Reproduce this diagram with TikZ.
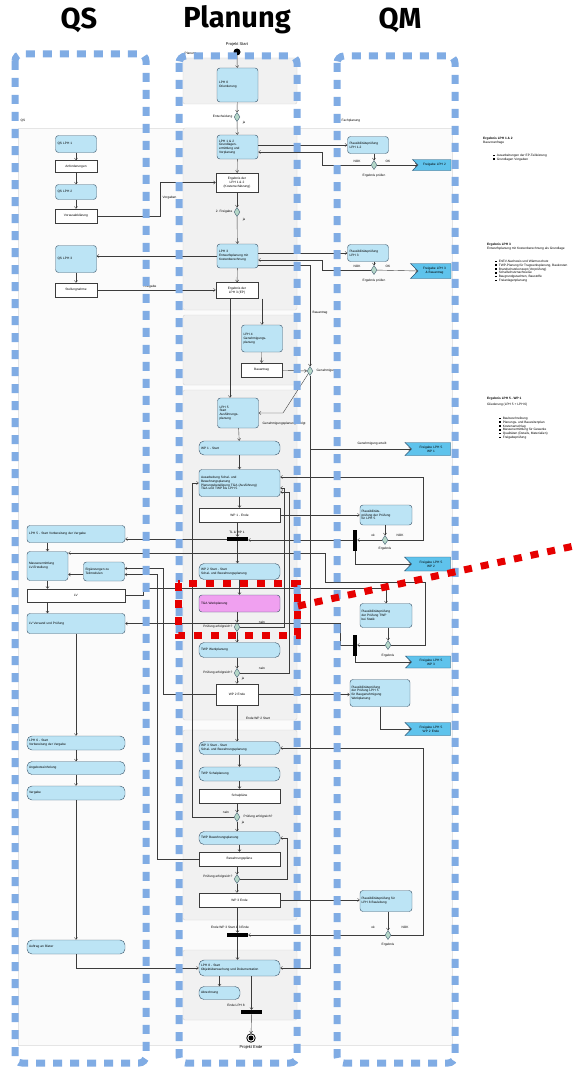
\documentclass[tikz,border=0pt]{standalone}
\usepackage{fontspec}
\setmainfont{Liberation Sans}
\newfontfamily\headfont{Fira Sans}
\usetikzlibrary{shapes.geometric,shapes.symbols,arrows.meta}
\definecolor{lanecol}{RGB}{128,172,228}
\definecolor{actfill}{RGB}{188,228,245}
\definecolor{actdraw}{RGB}{70,95,115}
\definecolor{flagfill}{RGB}{95,195,236}
\definecolor{flagdraw}{RGB}{40,80,110}
\definecolor{pinkfill}{RGB}{240,160,240}
\definecolor{decfill}{RGB}{180,215,200}
\definecolor{panelfill}{RGB}{241,241,241}
\definecolor{paneldraw}{RGB}{212,212,212}
\definecolor{wirecol}{RGB}{60,60,60}
\definecolor{hilite}{RGB}{230,0,0}
\tikzset{
  tinytext/.style={font=\fontsize{3.2}{3.8}\selectfont},
  act/.style={tinytext, draw=actdraw, fill=actfill, line width=0.45pt, rounded corners=3pt,
    align=left, inner xsep=1.5pt, inner ysep=1pt},
  pill/.style={act, rounded corners=5pt},
  narrow/.style={text width=37pt, minimum width=41pt},
  wide/.style={text width=77pt, minimum width=81pt},
  qswide/.style={text width=94pt, minimum width=98pt},
  result/.style={tinytext, draw=wirecol, fill=white, line width=0.45pt, align=center, inner sep=1pt},
  dec/.style={diamond, draw=actdraw, fill=decfill, line width=0.4pt, minimum width=6pt,
    minimum height=9pt, inner sep=0pt},
  hbar/.style={fill=black, inner sep=0pt, minimum width=21pt, minimum height=4pt},
  vbar/.style={fill=black, inner sep=0pt, minimum width=4pt, minimum height=21pt},
  flagbox/.style={tinytext, shape=signal, signal from=west, signal to=nothing, draw=flagdraw,
    fill=flagfill, line width=0.45pt, align=center, inner sep=1pt, text width=#1},
  lbl/.style={tinytext, inner sep=0.5pt},
  anno/.style={tinytext, inner sep=0pt, align=left, anchor=north west},
  wire/.style={draw=wirecol, line width=0.4pt},
  arr/.style={wire, -{Straight Barb[length=2pt,width=3.2pt]}},
  panel/.style={fill=panelfill, draw=paneldraw, line width=0.4pt, rounded corners=2pt},
  lane/.style={draw=lanecol, line width=7pt, rounded corners=7pt, dash pattern=on 9pt off 8pt},
  focus/.style={draw=hilite, line width=7pt, dash pattern=on 8pt off 9pt},
  head/.style={font=\headfont\bfseries\fontsize{29}{32}\selectfont, text=black},
}
\newcommand{\sq}{\rule[0.3pt]{1.6pt}{1.6pt}\hspace{2pt}}
\begin{document}
\begin{tikzpicture}[x=1pt,y=-1pt]
\useasboundingbox (0,0) rectangle (574,1070);
\fill[white] (0,0) rectangle (574,1070);

% ---------- background panels ----------
\draw[fill=black!1.5, draw=black!10, line width=0.4pt] (18,128) rectangle (452,1045);
\draw[panel] (183,58) rectangle (297,104);
\draw[panel] (183,128) rectangle (297,310);
\draw[panel, fill=black!6] (183,315) rectangle (297,385);
\draw[panel] (183,390) rectangle (297,720);
\draw[panel] (183,730) rectangle (297,920);
\draw[panel] (183,950) rectangle (297,1020);

\node[lbl, anchor=west] (lqs) at (20,121) {QS};
\node[lbl, anchor=west] (lpl) at (184,54) {Planung};
\node[lbl, anchor=west] (lqm) at (341,121) {Fachplanung};

% ---------- Planung ----------
\node[circle, fill=black, minimum size=7pt, inner sep=0pt] (start) at (237,52) {};
\node[lbl, font=\fontsize{4}{4.5}\selectfont] (tstart) at (237,44) {Projekt Start};
\node[act, narrow, minimum height=34pt] (lph0) at (237.5,85) {LPH 0\\Orientierung};
\node[dec] (d1) at (237,117) {};
\node[lbl, anchor=east] (td1) at (233,117) {Entscheidung};
\node[lbl] (td1b) at (244,123) {ja};
\node[act, narrow, minimum height=24pt] (lph12) at (237.5,147) {LPH 1 \& 2\\Grundlagen-\\ermittlung und\\Vorplanung};
\node[result, minimum width=42pt, minimum height=19pt] (e12) at (237,182.5) {Ergebnis der\\LPH 1 \& 2\\(Kostenschätzung)};
\node[dec] (d2) at (237,212) {};
\node[lbl, anchor=east] (td2) at (233,212) {2. Freigabe};
\node[lbl] (td2b) at (244,220) {ja};
\node[act, narrow, minimum height=24pt] (lph3) at (237.5,256) {LPH 3\\Entwurfsplanung mit\\Kostenberechnung};
\node[result, minimum width=42pt, minimum height=16pt] (e3) at (237,290.5) {Ergebnis der\\LPH 3 (EP)};
\node[act, narrow, minimum height=27pt] (lph4) at (262,338.5) {LPH 4\\Genehmigungs-\\planung};
\node[result, minimum width=41pt, minimum height=14pt] (e4) at (261.5,370) {Bauantrag};
\node[dec] (d3) at (310,371) {};
\node[lbl, anchor=west] (td3) at (316,371) {Genehmigung};
\node[lbl, anchor=west] (td3b) at (312,313) {Bauantrag};
\node[act, narrow, minimum height=30pt] (lph5) at (238,413) {LPH 5\\Start\\Ausführungs-\\planung};
\node[lbl, anchor=west] (td3c) at (262,424) {Genehmigungsplanung erfolgt};
\node[pill, wide, minimum height=14pt] (wp1s) at (239.5,448) {WP 1 - Start};
\node[act, wide, minimum height=27pt] (wp1) at (239.5,483) {Ausarbeitung Schal- und\\Bewehrungsplanung\\Planungsbeteiligung TGA (Ausführung)\\TGA und TWP bis LPH 5};
\node[result, minimum width=81pt, minimum height=14pt] (wp1e) at (239.5,515) {WP 1 - Ende};
\node[hbar] (bar1) at (237.5,539) {};
\node[lbl] (tbar1) at (237,532) {TL \& WP 1};
\node[pill, wide, minimum height=16pt] (wp2s) at (239.5,571.5) {WP 2 Start - Start\\Schal- und Bewehrungsplanung};
\node[act, wide, fill=pinkfill, minimum height=17pt] (tga) at (239.5,603.5) {TGA Werkplanung};
\node[dec] (d4) at (237,627) {};
\node[lbl, anchor=east] (td4) at (233,627) {Prüfung erfolgreich?};
\node[lbl] (td4b) at (262,622) {nein};
\node[pill, wide, minimum height=15pt] (twp1) at (239.5,650) {TWP Werkplanung};
\node[dec] (d5) at (237,673) {};
\node[lbl, anchor=east] (td5) at (233,673) {Prüfung erfolgreich?};
\node[lbl] (td5b) at (262,668) {nein};
\node[lbl] (td5c) at (243,679) {ja};
\node[result, minimum width=42pt, minimum height=21pt] (wp2e) at (237,694.5) {WP 2 Ende};
\node[lbl] (twp2e) at (258,718) {Ende WP 2 Start};
\node[pill, wide, minimum height=13pt] (wp3s) at (239.5,748) {WP 3 Start - Start\\Schal- und Bewehrungsplanung};
\node[pill, wide, minimum height=14pt] (twp2) at (239.5,774) {TWP Schalplanung};
\node[result, minimum width=81pt, minimum height=14pt] (r1) at (239.5,796) {Schalpläne};
\node[dec] (d6) at (237,817) {};
\node[lbl, anchor=west] (td6) at (243,817) {Prüfung erfolgreich?};
\node[lbl] (td6b) at (226,812) {nein};
\node[lbl] (td6c) at (243,823) {ja};
\node[pill, wide, minimum height=13pt] (twp3) at (239.5,838) {TWP Bewehrungsplanung};
\node[result, minimum width=81pt, minimum height=14pt] (r2) at (239.5,859) {Bewehrungspläne};
\node[dec] (d7) at (237,879) {};
\node[lbl, anchor=east] (td7) at (233,877) {Prüfung erfolgreich?};
\node[result, minimum width=81pt, minimum height=14pt] (wp3e) at (239.5,900) {WP 3 Ende};
\node[lbl] (tbar2) at (230,927) {Ende WP 3 Start \& 3 Ende};
\node[hbar] (bar2) at (237.5,935) {};
\node[pill, wide, minimum height=16pt] (lph8) at (239.5,968) {LPH 8 - Start\\Objektüberwachung und Dokumentation};
\node[pill, narrow, minimum height=13pt] (abr) at (219.5,993) {Abrechnung};
\node[lbl] (tbar3) at (236,1005) {Ende LPH 8};
\node[hbar] (bar3) at (251.5,1012) {};
\node[circle, draw=black, line width=0.8pt, minimum size=8.5pt, inner sep=0pt] (endring) at (251,1038) {};
\node[circle, fill=black, minimum size=5pt, inner sep=0pt] (enddot) at (251,1038) {};
\node[lbl, font=\fontsize{4}{4.5}\selectfont] (tend) at (251,1047) {Projekt Ende};

% ---------- QS ----------
\node[act, narrow, minimum height=17pt] (qs12) at (76,144) {QS LPH 1};
\node[result, minimum width=42pt, minimum height=12pt] (qsr1) at (76,166.5) {Anforderungen};
\node[act, narrow, minimum height=15pt] (qs2) at (76,192) {QS LPH 2};
\node[result, minimum width=42pt, minimum height=14pt] (qsr2) at (76,216) {Vorausabklärung};
\node[act, narrow, minimum height=27pt] (qs3) at (76,259) {QS LPH 3};
\node[result, minimum width=42pt, minimum height=14pt] (qsr3) at (76,290) {Stellungnahme};
\node[act, qswide, minimum height=17pt] (qs5) at (76,534) {LPH 5 - Start Vorbereitung der Vergabe};
\node[act, narrow, minimum height=29pt] (mass) at (47.5,566) {Massenermittlung\\LV-Erstellung};
\node[act, narrow, minimum height=19pt] (erg) at (104,571.5) {Ergänzungen zu\\Teilmodulen};
\node[result, minimum width=98pt, minimum height=13pt] (lv) at (76,595.5) {LV};
\node[act, qswide, minimum height=20pt] (lvv) at (76,623.5) {LV Versand und Prüfung};
\node[pill, qswide, minimum height=14pt] (lph6) at (76,743) {LPH 6 - Start\\Vorbereitung der Vergabe};
\node[pill, qswide, minimum height=13pt] (ang) at (76,768) {Angebotseinholung};
\node[pill, qswide, minimum height=14pt] (verg) at (76,793) {Vergabe};
\node[pill, qswide, minimum height=14pt] (auftr) at (76,947) {Auftrag an Bieter};
\node[lbl, anchor=west] (tvg) at (162,198) {Vorgaben};
\node[lbl] (tfg) at (150,287) {Freigabe};

% ---------- QM ----------
\node[act, narrow, minimum height=17pt] (qm12) at (368,145) {Plausibilitätsprüfung\\LPH 1-2};
\node[dec] (qd1) at (374,165) {};
\node[lbl] (tq1a) at (357,161) {NOK};
\node[lbl] (tq1b) at (388,161) {OK};
\node[lbl] (tq1c) at (374,176) {Ergebnis prüfen};
\node[flagbox=31pt, minimum height=11pt] (f1) at (434.5,165) {Freigabe LPH 2};
\node[act, narrow, minimum height=17pt] (qm3) at (368,253) {Plausibilitätsprüfung\\LPH 3};
\node[dec] (qd2) at (374,270) {};
\node[lbl] (tq2a) at (357,266) {NOK};
\node[lbl] (tq2b) at (388,266) {OK};
\node[lbl] (tq2c) at (374,281) {Ergebnis prüfen};
\node[flagbox=31pt, minimum height=15pt] (f2) at (434.5,271) {Freigabe LPH 3\\\& Bauantrag};
\node[flagbox=37pt, minimum height=13pt] (f3) at (431,449) {Freigabe LPH 5\\WP 1};
\node[lbl] (tf3) at (372,444) {Genehmigung erteilt};
\node[act, text width=49pt, minimum width=52pt, minimum height=20pt] (qm5) at (386,515) {Plausibilitäts-\\prüfung der Prüfung\\für LPH 5};
\node[vbar] (vbar1) at (355,540) {};
\node[dec] (qd3) at (385,540) {};
\node[lbl] (tq3a) at (373,535) {ok};
\node[lbl] (tq3b) at (400,535) {NOK};
\node[lbl] (tq3c) at (385,549) {Ergebnis};
\node[flagbox=37pt, minimum height=14pt] (f4) at (431,564) {Freigabe LPH 5\\WP 2};
\node[act, text width=49pt, minimum width=52pt, minimum height=24pt] (qm6) at (386,615.5) {Plausibilitätsprüfung\\der Prüfung TWP\\bei Statik};
\node[vbar] (vbar2) at (355,645) {};
\node[dec] (qd4) at (388,645) {};
\node[lbl] (tq4c) at (388,656) {Ergebnis};
\node[flagbox=37pt, minimum height=12pt] (f5) at (431,662) {Freigabe LPH 5\\WP 3};
\node[act, text width=57pt, minimum width=60pt, minimum height=27pt] (qm7) at (380,693) {Plausibilitätsprüfung\\der Prüfung LPH 5\\für Baugenehmigung\\Werkplanung};
\node[flagbox=37pt, minimum height=13pt] (f6) at (431,729) {Freigabe LPH 5\\WP 2 Ende};
\node[act, text width=49pt, minimum width=52pt, minimum height=21pt] (qm8) at (386,901) {Plausibilitätsprüfung für\\LPH 8 Bauleitung};
\node[dec] (qd5) at (388,935) {};
\node[lbl] (tq5a) at (373,927) {ok};
\node[lbl] (tq5b) at (405,927) {NOK};
\node[lbl] (tq5c) at (388,945) {Ergebnis};

% ---------- notes on the right ----------
\node[anno] (ann1) at (483,137) {\textbf{Ergebnis LPH 1 \& 2}\\Bauvoranfrage};
\node[anno] (ann1b) at (493,154) {\sq Ausarbeitungen der EP-Teilleistung\\\sq Grundlagen Vorgaben};
\node[anno] (ann2) at (487,243) {\textbf{Ergebnis LPH 3}\\Entwurfsplanung mit Kostenberechnung als Grundlage};
\node[anno] (ann2b) at (495,260) {\sq EnEV-Nachweis und Wärmeschutz\\\sq TWP-Planung für Tragwerksplanung, Baukosten\\\sq Brandschutzkonzept (Vorprüfung)\\\sq Schallschutznachweise\\\sq Baugrundgutachten, Baustoffe\\\sq Freianlagenplanung};
\node[anno] (ann3) at (487,397) {\textbf{Ergebnis LPH 5 - WP 1}\\[2pt]Gliederung (LPH 5 + LPH 6)};
\node[anno] (ann3b) at (499,417) {\sq Baubeschreibung\\\sq Planungs- und Bauzeitenplan\\\sq Kostenanschlag\\\sq Massenermittlung für Gewerke\\\sq Qualitäten (Details, Materialien)\\\sq Freigabeprüfung};

% ---------- connectors: Planung ----------
\draw[arr] (start) -- (lph0);
\draw[arr] (lph0) -- (d1);
\draw[arr] (d1) -- (lph12);
\draw[arr] (lph12) -- (e12);
\draw[arr] (e12) -- (d2);
\draw[arr] (d2) -- (lph3);
\draw[arr] (lph3) -- (e3);
\draw[arr] (e3.south -| lph4.north) -- (lph4.north);
\draw[arr] ([xshift=-7pt]e3.south) -- ([xshift=-8pt]lph5.north);
\draw[arr] (lph4) -- (e4);
\draw[arr] (e4) -- (d3);
\draw[arr] ([yshift=-9pt]lph3.east) -| (d3.north);
\draw[arr] (d3) -- ++(-27,42) -- (lph5.east);
\draw[arr] (d3.south) |- (lph8.east);
\coordinate (g1) at (310,449);
\draw[arr] (g1) -- (f3.west);
\draw[arr] (lph5) -- (wp1s);
\draw[arr] (wp1s) -- (wp1);
\draw[arr] (wp1) -- (wp1e);
\draw[arr] (wp1e.south -| bar1) -- (bar1);
\draw[arr] (bar1) -- (wp2s.north -| bar1);
\draw[arr] (wp2s) -- (tga);
\draw[arr] (tga.south -| d4) -- (d4);
\draw[arr] (d4) -- (twp1.north -| d4);
\draw[arr] (twp1.south -| d5) -- (d5);
\draw[arr] (d5) -- (wp2e);
\draw[arr] (wp2e.south) -- (wp3s.north -| wp2e.south);
\draw[arr] (wp3s) -- (twp2);
\draw[arr] (twp2) -- (r1);
\draw[arr] (r1.south -| d6) -- (d6);
\draw[arr] (d6) -- (twp3.north -| d6);
\draw[arr] (twp3) -- (r2);
\draw[arr] (r2.south -| d7) -- (d7);
\draw[arr] (d7) -- (wp3e.north -| d7);
\draw[arr] (wp3e.south -| bar2) -- (bar2);
\draw[arr] (bar2) -- (lph8.north -| bar2);
\draw[arr] (lph8.south -| abr) -- (abr);
\draw[arr] (lph8.south -| bar3) -- (bar3);
\draw[arr] (bar3) -- (endring);
% loops back for failed checks
\draw[arr] (d4.east) -- (284,627) |- ([yshift=-5pt]wp1.east);
\draw[arr] (d5.east) -- (289,673) |- ([yshift=-9pt]wp1.east);
\draw[arr] (d6.west) -- (192,817) |- (wp1.west);
\draw[arr] (d7.east) -- (287,879) |- (twp3.east);

% ---------- connectors: QS ----------
\draw[arr] (qs12) -- (qsr1);
\draw[arr] (qsr1) -- (qs2);
\draw[arr] (qs2) -- (qsr2);
\draw[arr] (qs3) -- (qsr3);
\draw[arr] (qsr2.east) -- (160,216) |- (e12.west);
\draw[arr] (lph3.west) -- (lph3.west -| qs3.east);
\draw[arr] (qsr3.east) -- (qsr3.east -| e3.west);
\draw[arr] (qs5.south -| mass) -- (mass.north);
\draw[arr] ([yshift=-3pt]erg.west) -- ([yshift=-3pt]erg.west -| mass.east);
\draw[arr] (mass.south) -- (mass.south |- lv.north);
\draw[arr] (lv.south -| mass) -- (lvv.north -| mass);
\draw[arr] (lvv) -- (lph6);
\draw[arr] (lph6) -- (ang);
\draw[arr] (ang) -- (verg);
\draw[arr] (verg) -- (auftr);
\draw[arr] (auftr.south) |- (lph8.west);
\draw[arr] (lv.east) -- (143,595.5) -- (143,588) -| (qm6.north);
\draw[arr] (wp2e.west) -- (163,694.5) |- ([yshift=3pt]erg.east);
\draw[arr] (r2.west) -- (157,859) |- ([yshift=-3pt]erg.east);

% ---------- connectors: QM ----------
\draw[arr] (lph12.east |- qm12.west) -- (qm12.west);
\draw[arr] (qm12.south -| qd1) -- (qd1);
\draw[arr] (qd1) -- (f1.west);
\draw[arr] (qd1.west) -- (322,165) |- ([yshift=-5pt]lph12.east);
\draw[arr] (lph3.east |- qm3.west) -- (qm3.west);
\draw[arr] (qm3.south -| qd2) -- (qd2);
\draw[arr] (qd2) -- (f2.west);
\draw[arr] (qd2.west) -- (322,270) |- ([yshift=-4pt]lph3.east);
\draw[arr] (wp1e.east) -- (wp1e.east -| qm5.west);
\draw[arr] (qm5.south -| qd3) -- (qd3);
\draw[arr] (qd3.west) -- (qd3.west -| vbar1.east);
\draw[arr] (qd3.east) -- (423,540) |- ([yshift=6pt]wp1.east);
\draw[arr] (vbar1.west) -- (vbar1.west -| bar1.east);
\draw[arr] (bar1.west) -- (bar1.west -| qs5.east);
\draw[arr] (vbar1.south) |- (f4.west);
\draw[arr] (qm6.south -| qd4) -- (qd4);
\draw[arr] (qd4.west) -- (vbar2.east);
\draw[arr] (vbar2.south) |- (f5.west);
\draw[arr] (vbar2.west) -- (340,645) |- (lvv.east);
\draw[arr] (qd4.east) -- (425,645) -- (425,582) -- (325,582) |- ([yshift=13pt]mass.east);
\draw[arr] (wp2e.east) -- (wp2e.east -| qm7.west);
\draw[arr] (qm7.south) |- (f6.west);
\draw[arr] (wp3e.east) -- (wp3e.east -| qm8.west);
\draw[arr] (qm8.south -| qd5) -- (qd5);
\draw[arr] (qd5.west) -- (qd5.west -| bar2.east);
\draw[arr] (qd5.east) -- (423,935) |- (wp3s.east);

% ---------- swimlanes ----------
\draw[lane] (15,54) rectangle (146,1063);
\draw[lane] (179,56) rectangle (297,1063);
\draw[lane] (337,56) rectangle (455,1063);
\node[head] (hqs) at (79,20) {QS};
\node[head] (hpl) at (237,20) {Planung};
\node[head] (hqm) at (400,20) {QM};

% ---------- highlight ----------
\draw[focus] (178,583) rectangle (297,635);
\draw[focus] (298,606) -- (574,546);
\end{tikzpicture}
\end{document}
